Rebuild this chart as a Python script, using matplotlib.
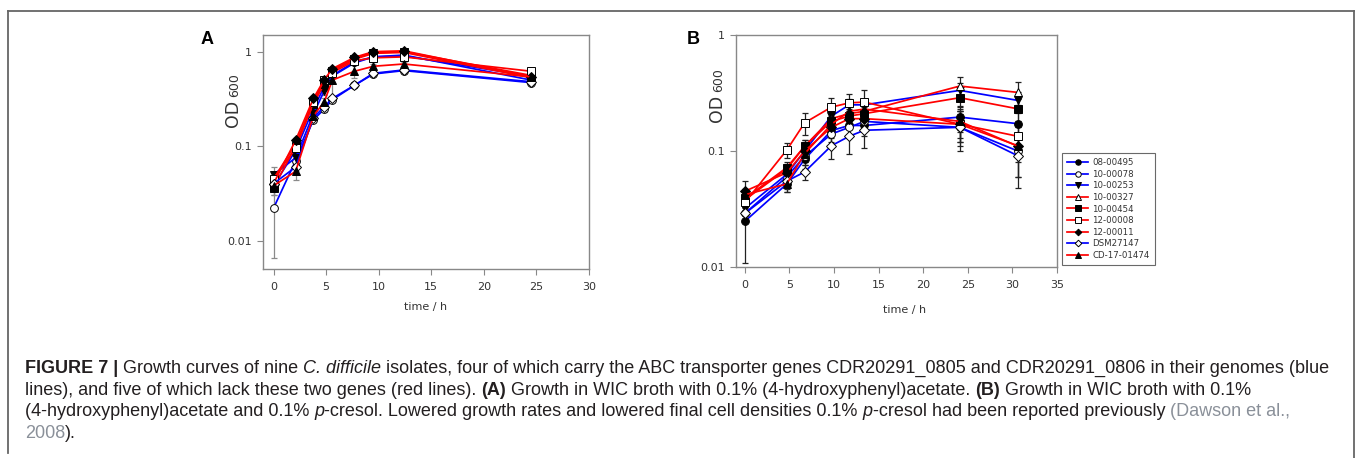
import numpy as np
import matplotlib
matplotlib.use('Agg')
import matplotlib.pyplot as plt
from matplotlib.lines import Line2D

W, H = 1358, 458

# isolates: name, colour, marker, filled?
names = ['08-00495', '10-00078', '10-00253', '10-00327', '10-00454',
         '12-00008', '12-00011', 'DSM27147', 'CD-17-01474']
colors = ['#0000ff', '#0000ff', '#0000ff', '#ff0000', '#ff0000',
          '#ff0000', '#ff0000', '#0000ff', '#ff0000']
markers = ['o', 'o', 'v', '^', 's', 's', 'D', 'D', '^']
filled = [True, False, True, False, True, False, True, False, True]

# panel A: WIC + 0.1% (4-hydroxyphenyl)acetate
time_a = [0, 2.1, 3.8, 4.8, 5.6, 7.7, 9.5, 12.4, 24.5]
od_a = [
    [0.038, 0.090, 0.25, 0.42, 0.56, 0.78, 0.88, 0.90, 0.55],
    [0.022, 0.070, 0.19, 0.245, 0.31, 0.44, 0.58, 0.63, 0.47],
    [0.050, 0.075, 0.22, 0.38, 0.55, 0.76, 0.88, 0.92, 0.50],
    [0.045, 0.105, 0.30, 0.48, 0.64, 0.85, 0.97, 1.00, 0.56],
    [0.036, 0.100, 0.28, 0.45, 0.62, 0.83, 0.96, 0.98, 0.53],
    [0.045, 0.095, 0.29, 0.50, 0.60, 0.80, 0.86, 0.88, 0.62],
    [0.040, 0.115, 0.32, 0.50, 0.66, 0.87, 1.00, 1.02, 0.54],
    [0.040, 0.060, 0.20, 0.26, 0.32, 0.44, 0.59, 0.64, 0.48],
    [0.038, 0.054, 0.21, 0.29, 0.50, 0.62, 0.70, 0.74, 0.54],
]
err_a = [
    [0.004, 0.006, 0.02, 0.03, 0.03, 0.04, 0.04, 0.04, 0.03],
    [0.0155, 0.008, 0.01, 0.015, 0.02, 0.02, 0.03, 0.03, 0.02],
    [0.010, 0.006, 0.02, 0.03, 0.03, 0.04, 0.04, 0.04, 0.03],
    [0.004, 0.008, 0.02, 0.03, 0.03, 0.04, 0.04, 0.04, 0.03],
    [0.006, 0.008, 0.02, 0.03, 0.03, 0.04, 0.04, 0.04, 0.03],
    [0.004, 0.008, 0.02, 0.03, 0.03, 0.04, 0.04, 0.04, 0.03],
    [0.004, 0.008, 0.02, 0.03, 0.03, 0.04, 0.04, 0.04, 0.03],
    [0.004, 0.006, 0.01, 0.015, 0.02, 0.02, 0.03, 0.03, 0.02],
    [0.008, 0.010, 0.02, 0.03, 0.19, 0.10, 0.04, 0.04, 0.03],
]

# panel B: WIC + 0.1% (4-hydroxyphenyl)acetate + 0.1% p-cresol
time_b = [0, 4.7, 6.7, 9.7, 11.7, 13.4, 24.1, 30.6]
od_b = [
    [0.0248, 0.052, 0.085, 0.150, 0.166, 0.166, 0.196, 0.172],
    [0.029, 0.060, 0.090, 0.140, 0.160, 0.180, 0.160, 0.100],
    [0.032, 0.063, 0.100, 0.200, 0.250, 0.250, 0.333, 0.273],
    [0.038, 0.070, 0.110, 0.190, 0.210, 0.220, 0.363, 0.320],
    [0.039, 0.072, 0.110, 0.180, 0.200, 0.210, 0.288, 0.231],
    [0.036, 0.102, 0.175, 0.239, 0.260, 0.264, 0.170, 0.134],
    [0.045, 0.065, 0.100, 0.160, 0.190, 0.190, 0.170, 0.111],
    [0.029, 0.055, 0.066, 0.111, 0.134, 0.151, 0.160, 0.091],
    [0.042, 0.052, 0.095, 0.170, 0.220, 0.230, 0.180, 0.110],
]
err_b = [
    [0.014, 0.008, 0.015, 0.03, 0.03, 0.03, 0.05, 0.04],
    [0.004, 0.008, 0.015, 0.03, 0.03, 0.03, 0.05, 0.04],
    [0.004, 0.008, 0.015, 0.03, 0.03, 0.03, 0.05, 0.05],
    [0.005, 0.008, 0.015, 0.03, 0.03, 0.03, 0.07, 0.07],
    [0.005, 0.008, 0.015, 0.03, 0.03, 0.03, 0.05, 0.05],
    [0.004, 0.015, 0.038, 0.05, 0.05, 0.07, 0.05, 0.03],
    [0.010, 0.008, 0.015, 0.03, 0.03, 0.03, 0.05, 0.03],
    [0.004, 0.008, 0.010, 0.025, 0.04, 0.045, 0.06, 0.043],
    [0.005, 0.008, 0.015, 0.03, 0.03, 0.03, 0.05, 0.05],
]

TXT = '#333333'
SPINE = '#888888'

fig = plt.figure(figsize=(W / 100, H / 100), dpi=100)


def px_axes(l, t, r, b):
    return fig.add_axes([l / W, 1 - b / H, (r - l) / W, (b - t) / H])


def style_axes(ax):
    ax.set_yscale('log')
    for s in ax.spines.values():
        s.set_color(SPINE)
        s.set_linewidth(1.0)
    ax.tick_params(axis='both', which='major', direction='out', length=4,
                   width=0.8, color=SPINE, labelsize=8, labelcolor=TXT)
    ax.tick_params(axis='x', pad=5)
    ax.tick_params(axis='y', pad=4)
    ax.tick_params(axis='y', which='minor', left=False)
    ax.yaxis.set_major_formatter(matplotlib.ticker.FuncFormatter(
        lambda v, p: {1: '1', 0.1: '0.1', 0.01: '0.01'}.get(round(v, 3), '')))


def draw(ax, t, ys, errs, ecol):
    lines = []
    for i in range(len(names)):
        ax.errorbar(t, ys[i], yerr=errs[i], fmt='none', ecolor=ecol,
                    elinewidth=0.9, capsize=2.5, capthick=0.9, zorder=2)
    for i in range(len(names)):
        ln, = ax.plot(t, ys[i], color=colors[i], lw=1.25, marker=markers[i],
                      ms=5.6 if markers[i] != 'D' else 4.8,
                      mfc='black' if filled[i] else 'white', mec='black',
                      mew=0.7, zorder=3, label=names[i])
        lines.append(ln)
    return lines


ax_a = px_axes(263, 35, 589, 269)
style_axes(ax_a)
draw(ax_a, time_a, od_a, err_a, '#8a8a8a')
ax_a.set_xlim(-1, 30)
ax_a.set_ylim(0.005, 1.5)
ax_a.set_xticks([0, 5, 10, 15, 20, 25, 30])
ax_a.set_yticks([0.01, 0.1, 1])

ax_b = px_axes(736, 35, 1057, 267)
style_axes(ax_b)
lines_b = draw(ax_b, time_b, od_b, err_b, '#222222')
ax_b.set_xlim(-1, 35)
ax_b.set_ylim(0.01, 1)
ax_b.set_xticks([0, 5, 10, 15, 20, 25, 30, 35])
ax_b.set_yticks([0.01, 0.1, 1])

leg = fig.legend(handles=lines_b, loc='upper left',
                 bbox_to_anchor=(1062 / W, 1 - 153 / H), fontsize=6.2,
                 frameon=True, fancybox=False, edgecolor='#444444',
                 handlelength=2.4, handletextpad=0.5, labelspacing=0.3,
                 borderpad=0.6, markerscale=0.7, borderaxespad=0)
leg.get_frame().set_linewidth(0.8)
for txt in leg.get_texts():
    txt.set_color(TXT)


def fx(x):
    return x / W


def fy(y):
    return 1 - y / H


fig.canvas.draw()
rend = fig.canvas.get_renderer()


def ylabel(xb, ybot):
    t1 = fig.text(fx(xb), fy(ybot), 'OD', fontsize=12.5, color=TXT,
                  rotation=90, rotation_mode='anchor', ha='left', va='baseline')
    h = t1.get_window_extent(rend).height
    fig.text(fx(xb), fy(ybot - h - 3), '600', fontsize=9, color=TXT,
             rotation=90, rotation_mode='anchor', ha='left', va='baseline')


ylabel(238, 127)
ylabel(722, 122)

fig.text(fx(426), fy(307), 'time / h', fontsize=8, color=TXT,
         ha='center', va='center')
fig.text(fx(905), fy(310), 'time / h', fontsize=8, color=TXT,
         ha='center', va='center')
fig.text(fx(207.5), fy(39.5), 'A', fontsize=13, fontweight='bold',
         family='Liberation Sans', ha='center', va='center', color='black')
fig.text(fx(693), fy(40), 'B', fontsize=13, fontweight='bold',
         family='Liberation Sans', ha='center', va='center', color='black')

# outer frame (open at the bottom)
frame_col = '#666666'
fig.add_artist(Line2D([fx(8), fx(8)], [fy(11), fy(453)], color=frame_col, lw=1.3))
fig.add_artist(Line2D([fx(8), fx(1354)], [fy(11), fy(11)], color=frame_col, lw=1.3))
fig.add_artist(Line2D([fx(1354), fx(1354)], [fy(11), fy(458)], color=frame_col, lw=1.3))

# caption with mixed styles
CAP = '#231f20'
LINK = '#8a9099'
CAP_FONT = 'Liberation Sans'
cap_size = 12.95
cap_lines = [
    [('FIGURE 7 |', 'bold', 'normal', CAP),
     (' Growth curves of nine ', 'normal', 'normal', CAP),
     ('C. difficile', 'normal', 'italic', CAP),
     (' isolates, four of which carry the ABC transporter genes CDR20291_0805 '
      'and CDR20291_0806 in their genomes (blue', 'normal', 'normal', CAP)],
    [('lines), and five of which lack these two genes (red lines). ', 'normal', 'normal', CAP),
     ('(A)', 'bold', 'normal', CAP),
     (' Growth in WIC broth with 0.1% (4-hydroxyphenyl)acetate. ', 'normal', 'normal', CAP),
     ('(B)', 'bold', 'normal', CAP),
     (' Growth in WIC broth with 0.1%', 'normal', 'normal', CAP)],
    [('(4-hydroxyphenyl)acetate and 0.1% ', 'normal', 'normal', CAP),
     ('p', 'normal', 'italic', CAP),
     ('-cresol. Lowered growth rates and lowered final cell densities 0.1% ', 'normal', 'normal', CAP),
     ('p', 'normal', 'italic', CAP),
     ('-cresol had been reported previously ', 'normal', 'normal', CAP),
     ('(Dawson et al.,', 'normal', 'normal', LINK)],
    [('2008', 'normal', 'normal', LINK),
     (').', 'normal', 'normal', CAP)],
]
cap_base = [373, 395, 416, 438]


def text_width(s, weight, style):
    kw = dict(fontsize=cap_size, fontweight=weight, fontstyle=style,
              family=CAP_FONT)
    a = fig.text(0, 0, s + '.', **kw)
    b = fig.text(0, 0, '.', **kw)
    w = a.get_window_extent(rend).width - b.get_window_extent(rend).width
    a.remove()
    b.remove()
    return w


for runs, yb in zip(cap_lines, cap_base):
    x = 25
    for s, weight, style, col in runs:
        fig.text(fx(x), fy(yb), s, fontsize=cap_size, fontweight=weight,
                 fontstyle=style, color=col, family=CAP_FONT,
                 ha='left', va='baseline')
        x += text_width(s, weight, style)

fig.savefig('out.png', dpi=100)
